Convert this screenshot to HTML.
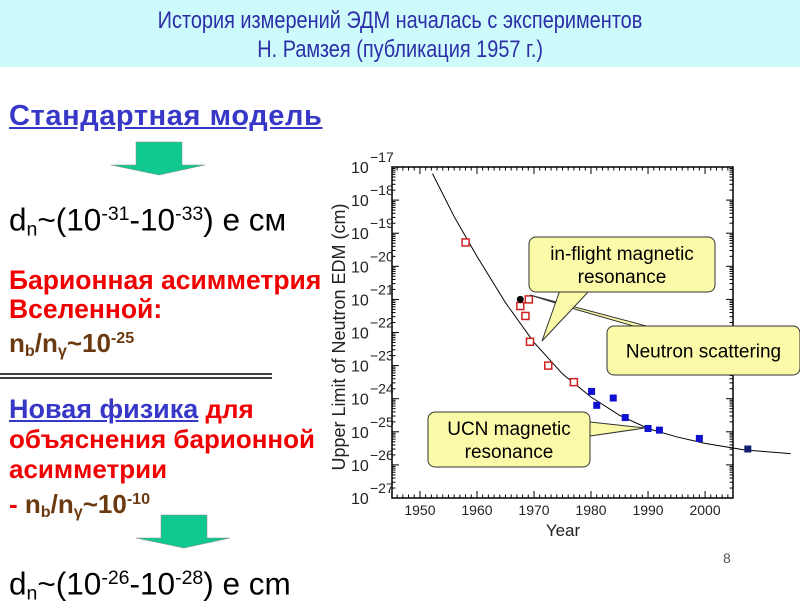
<!DOCTYPE html>
<html><head><meta charset="utf-8">
<style>
body{margin:0;width:800px;height:600px;background:#fff;overflow:hidden;position:relative;font-family:"Liberation Sans","DejaVu Sans",sans-serif;}
#title{position:absolute;left:0;top:0;width:800px;height:67px;background:#cdfafa;}
.tl{position:absolute;left:0;width:800px;text-align:center;color:#2e2ea8;font-size:24px;}
.tl span{display:inline-block;transform:scaleX(0.83);transform-origin:center;white-space:nowrap;}
.t{position:absolute;white-space:nowrap;}
.blue{color:#3838c8;font-weight:bold;text-decoration:underline;font-size:29px;line-height:32px;letter-spacing:0.6px;}
.red{color:#f00000;font-weight:bold;font-size:26.5px;line-height:29px;}
.brown{color:#6b3a10;font-weight:bold;font-size:26px;line-height:30px;}
.dn{font-size:31.5px;color:#000;line-height:34px;}
sup{font-size:0.62em;vertical-align:0.55em;}
sub{font-size:0.62em;vertical-align:-0.25em;}
svg{position:absolute;left:0;top:0;}
</style></head><body>
<div id="title">
<div class="tl" style="top:7px"><span>История измерений ЭДМ началась с экспериментов</span></div>
<div class="tl" style="top:36px"><span>Н. Рамзея (публикация 1957 г.)</span></div>
</div>
<div class="t blue" style="left:9px;top:100px">Стандартная модель</div>
<div class="t dn" style="left:9px;top:197px">d<sub>n</sub>~(10<sup>-31</sup>-10<sup>-33</sup>) e см</div>
<div class="t red" style="left:9px;top:266px">Барионная асимметрия<br>Вселенной:</div>
<div class="t brown" style="left:9px;top:323px">n<sub>b</sub>/n<sub>γ</sub>~10<sup>-25</sup></div>
<div class="t" style="left:9px;top:394px;font-size:26px;font-weight:bold;color:#f00000;line-height:30px"><span style="color:#3838c8;text-decoration:underline;font-size:27px">Новая физика</span> для<br>объяснения барионной<br>асимметрии<br>- <span style="color:#6b3a10">n<sub>b</sub>/n<sub>γ</sub>~10<sup>-10</sup></span></div>
<div class="t dn" style="left:9px;top:561px">d<sub>n</sub>~(10<sup>-26</sup>-10<sup>-28</sup>) e cm</div>
<div class="t" style="left:723px;top:550px;font-size:14px;color:#555">8</div>

<svg id="s" width="800" height="600">
<g><polygon points="136,142 182,142 182,165 205,165 159,175 111,165 136,165" fill="#10c890" stroke="#888" stroke-width="0.5"/></g>
<g><polygon points="161,515 207,515 207,538 230,538 184,548 136,538 161,538" fill="#10c890" stroke="#888" stroke-width="0.5"/></g>
<line x1="0" y1="374" x2="272" y2="374" stroke="#000" stroke-width="1.5"/>
<line x1="0" y1="378" x2="272" y2="378" stroke="#000" stroke-width="1.5"/>
</svg>

<script>
const years = [1958, 1967.6, 1968.5, 1969.1, 1969.3, 1972.5, 1977];
const redExp = [-19.28, -21.2, -21.5, -21.0, -22.28, -23.0, -23.5];
const blackYears = [1967.6];
const blackExp = [-21.0];
const blueYears = [1980.1, 1981, 1983.9, 1986, 1990, 1992, 1999];
const blueExp = [-23.78, -24.2, -23.98, -24.57, -24.9, -24.95, -25.2];
const navyYears = [2007.5];
const navyExp = [-25.52];
const curveYears = [1952.2, 1956, 1960, 1965, 1970, 1975, 1980, 1985, 1990, 1995, 2000, 2007, 2015];
const curveExp = [-17.2, -18.5, -19.7, -21.1, -22.3, -23.25, -23.95, -24.5, -24.9, -25.15, -25.35, -25.55, -25.66];
const yTicks = [-17, -18, -19, -20, -21, -22, -23, -24, -25, -26, -27];
const xTicks = [1950, 1960, 1970, 1980, 1990, 2000];

const L=392,R=733,T=167,B=498;
const x = yr => L + (yr-1945.1)/(2004.9-1945.1)*(R-L);
const y = e => T + (-17-e)/10*(B-T);
const svg=document.getElementById('s');
const NS='http://www.w3.org/2000/svg';
function mk(tag,attrs){const el=document.createElementNS(NS,tag);for(const k in attrs)el.setAttribute(k,attrs[k]);svg.appendChild(el);return el;}

const frame=mk('rect',{x:L,y:T,width:R-L,height:B-T,fill:'none',stroke:'#000','stroke-width':1.5});


for(let yr=1946;yr<=2004;yr++){
  const len = yr%10===0?7:3.5;
  mk('line',{x1:x(yr),y1:B,x2:x(yr),y2:B-len,stroke:'#000','stroke-width':1});
  mk('line',{x1:x(yr),y1:T,x2:x(yr),y2:T+len,stroke:'#000','stroke-width':1});
}
for(let d=-17;d>-27;d--){
  for(let m=1;m<10;m++){
    const e=d-1+Math.log10(m);
    const len=m===1?7:3.5;
    mk('line',{x1:L,y1:y(e),x2:L+len,y2:y(e),stroke:'#000','stroke-width':1});
    mk('line',{x1:R,y1:y(e),x2:R-len,y2:y(e),stroke:'#000','stroke-width':1});
  }
}
yTicks.forEach(e=>{
  const t=mk('text',{x:351,y:y(e)+6,'font-size':16,'font-family':'Liberation Sans, sans-serif',fill:'#222'});
  
  
  t.textContent='10';
  const s=mk('text',{x:370,y:y(e)-5,'font-size':14,'font-family':'Liberation Sans, sans-serif',fill:'#222'});
  
  
  s.textContent='\u2212'+(-e);
});
xTicks.forEach(v=>{
  const t=mk('text',{x:x(v),y:515,'font-size':14,'text-anchor':'middle','font-family':'Liberation Sans, sans-serif',fill:'#222'});
  
  
  t.textContent=v;
});
const xt=mk('text',{x:563,y:536,'font-size':17,'text-anchor':'middle','font-family':'Liberation Sans, sans-serif',fill:'#222'});


xt.textContent='Year';
const yt=mk('text',{x:0,y:0,'font-size':18,'text-anchor':'middle','font-family':'Liberation Sans, sans-serif',fill:'#222',transform:'translate(345,337) rotate(-90)'});


yt.textContent='Upper Limit of Neutron EDM (cm)';

let d='';
curveYears.forEach((yr,i)=>{d+=(i?'L':'M')+x(yr).toFixed(1)+','+y(curveExp[i]).toFixed(1);});
const cv=mk('path',{d:d,fill:'none',stroke:'#000','stroke-width':1});



years.forEach((yr,i)=>{
  const r=mk('rect',{x:x(yr)-3.5,y:y(redExp[i])-3.5,width:7,height:7,fill:'#fff',stroke:'#d02020','stroke-width':1.5});
  
  
});
blackYears.forEach((yr,i)=>{
  const c=mk('circle',{cx:x(yr),cy:y(blackExp[i]),r:3.5,fill:'#000'});
  
  
});
blueYears.forEach((yr,i)=>{
  const r=mk('rect',{x:x(yr)-3.5,y:y(blueExp[i])-3.5,width:7,height:7,fill:'#1010d0'});
  
  
});
navyYears.forEach((yr,i)=>{
  const r=mk('rect',{x:x(yr)-3.5,y:y(navyExp[i])-3.5,width:7,height:7,fill:'#102070'});
  
  
});

function callout(name,pts,bx,by,bw,bh,lines,fs){
  const g=document.createElementNS(NS,'g');
  
  
  svg.appendChild(g);
  const p=document.createElementNS(NS,'polygon');
  p.setAttribute('points',pts);p.setAttribute('fill','#fafaa8');p.setAttribute('stroke','#333');p.setAttribute('stroke-width','1');
  g.appendChild(p);
  const r=document.createElementNS(NS,'rect');
  r.setAttribute('x',bx);r.setAttribute('y',by);r.setAttribute('width',bw);r.setAttribute('height',bh);r.setAttribute('rx',7);
  r.setAttribute('fill','#fafaa8');r.setAttribute('stroke','#333');r.setAttribute('stroke-width','1');
  g.appendChild(r);
  lines.forEach((ln,i)=>{
    const t=document.createElementNS(NS,'text');
    t.setAttribute('x',bx+bw/2);t.setAttribute('y',by+bh/2+(i-(lines.length-1)/2)*23+7);
    t.setAttribute('text-anchor','middle');t.setAttribute('font-size',fs);
    t.setAttribute('font-family','Liberation Sans, sans-serif');
    t.setAttribute('xml:space','preserve');
    t.textContent=ln;g.appendChild(t);
  });
}
callout('neutron-scattering-callout','530,295 578,310 637,327 650,327',607,326,193,49,['Neutron  scattering'],19);
callout('in-flight-callout','560,290 542,341 590,290',529,237,186,55,['in-flight  magnetic','resonance'],19);
callout('ucn-callout','590,422 645,428 590,436',428,412,162,55,['UCN  magnetic','resonance'],19);
</script>
</body></html>
